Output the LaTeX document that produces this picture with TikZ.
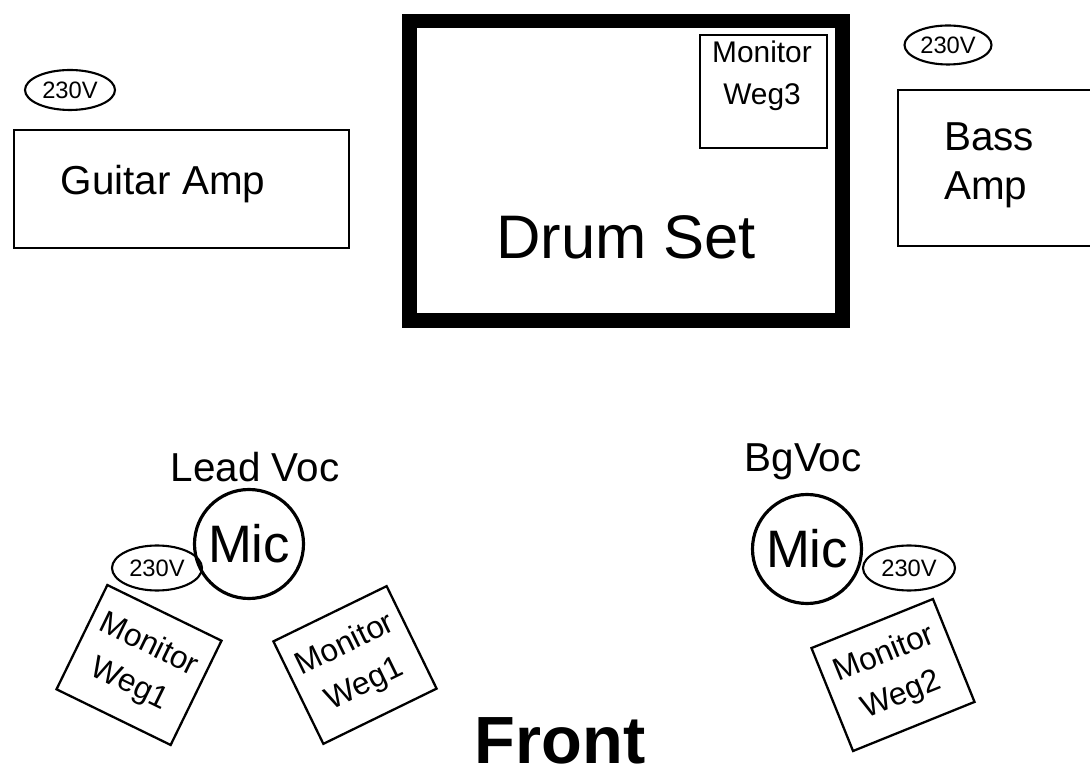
\documentclass[tikz,border=0pt]{standalone}
\usepackage{fontspec}
\setmainfont{Liberation Sans}
\usepackage{tikz}
\usetikzlibrary{shapes.geometric, positioning, calc}

\tikzset{
  ampbox/.style={draw, line width=1.4pt, minimum width=#1},
  monbox/.style={draw, line width=1.3pt, align=center, inner sep=0pt,
    font=\fontsize{17}{24}\selectfont},
  pwr/.style={draw, ellipse, line width=1.2pt, minimum width=1.8cm, minimum height=0.8cm,
    inner sep=0pt, font=\fontsize{13.5}{14}\selectfont},
  mic/.style={draw, circle, line width=1.8pt, minimum size=2.18cm, inner sep=0pt,
    font=\fontsize{30}{30}\selectfont},
  lbl/.style={font=\fontsize{23}{28}\selectfont}
}

\begin{document}
\begin{tikzpicture}
\clip (0,0) rectangle (21.8,15.56);
\fill[white] (0,0) rectangle (21.8,15.56);

% Backline
\node[pwr] (guitarpwr) at (1.40,13.76) {230V};
\node[ampbox=6.7cm, minimum height=2.36cm] (guitar) at (3.63,11.78) {};
\node[lbl] (guitartxt) at (3.26,11.88) {Guitar Amp};

\node[draw, line width=8pt, minimum width=8.66cm, minimum height=5.99cm] (drums) at (12.52,12.145) {};
\node[font=\fontsize{35}{40}\selectfont] (drumstxt) at (12.52,10.82) {Drum Set};
\node[monbox, minimum width=2.54cm, minimum height=2.26cm] (mon3) at (15.27,13.73) {};
\node[monbox, draw=none] (mon3txt) at (15.24,14.04) {Monitor\\Weg3};

\node[pwr, minimum width=1.74cm, minimum height=0.78cm] (basspwr) at (18.96,14.66) {230V};
\node[ampbox=4.24cm, minimum height=3.12cm] (bass) at (20.08,12.2) {};
\node[lbl, align=left, anchor=west] (basstxt) at (18.76,12.26) {Bass\\Amp};

% Lead vocals
\node[lbl] (leadlbl) at (5.10,6.22) {Lead Voc};
\node[mic] (leadmic) at (4.98,4.68) {Mic};
\node[pwr, minimum height=0.9cm] (leadpwr) at (3.14,4.20) {230V};
\node[monbox, font=\fontsize{18}{25}\selectfont, minimum width=2.54cm, minimum height=2.32cm, rotate=-26] (mon1a) at (2.78,2.26) {Monitor\\Weg1};
\node[monbox, font=\fontsize{18}{25}\selectfont, minimum width=2.52cm, minimum height=2.28cm, rotate=26] (mon1b) at (7.10,2.26) {Monitor\\Weg1};

% Background vocals
\node[lbl] (bglbl) at (16.06,6.32) {BgVoc};
\node[mic] (bgmic) at (16.14,4.58) {Mic};
\node[pwr, minimum width=1.84cm, minimum height=0.9cm] (bgpwr) at (18.18,4.20) {230V};
\node[monbox, font=\fontsize{18}{25}\selectfont, minimum width=2.62cm, minimum height=2.22cm, rotate=22] (mon2) at (17.86,2.06) {Monitor\\Weg2};

\node[anchor=base, inner sep=0pt, font=\fontsize{38}{40}\selectfont\bfseries] (front) at (11.2,0.3) {Front};
\end{tikzpicture}
\end{document}
